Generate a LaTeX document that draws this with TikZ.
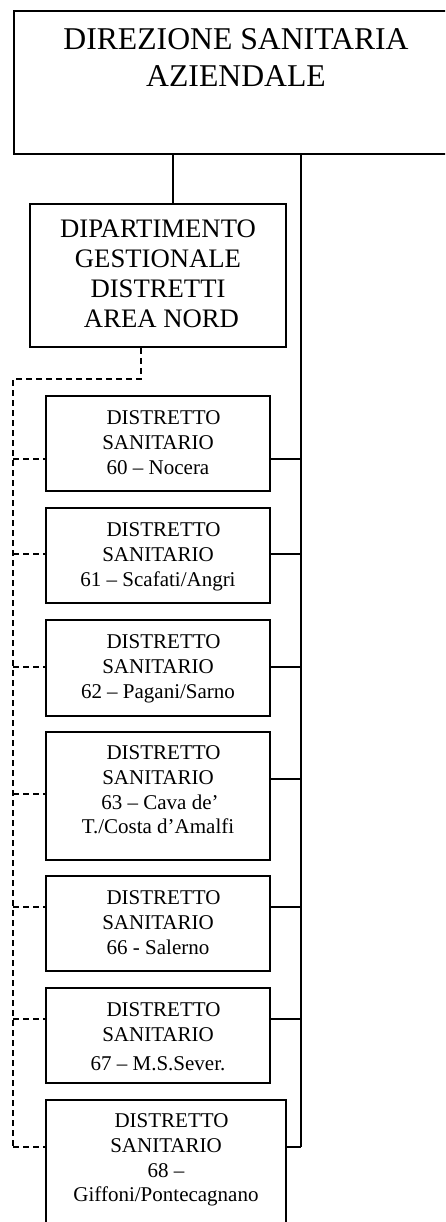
\documentclass[tikz,border=0pt]{standalone}
\usepackage{fontspec}
\setmainfont{Liberation Serif}
\usetikzlibrary{calc}
\begin{document}
\begin{tikzpicture}[x=1pt,y=-1pt,
  box/.style={draw, line width=2pt, rectangle, inner sep=0pt, anchor=north west},
  dist/.style={box, minimum width=224pt, minimum height=95pt},
  txt/.style={inner sep=0pt, align=center, anchor=north},
  dtxt/.style={txt, font=\fontsize{21}{24.6}\selectfont},
  conn/.style={line width=2pt},
  dconn/.style={line width=2pt, dash pattern=on 6pt off 4pt}]
\useasboundingbox (0,0) rectangle (445,1222);
\clip (0,0) rectangle (445,1222);

% boxes
\node[box, minimum width=446pt, minimum height=143pt] (dir) at (13,10) {};
\node[box, minimum width=256pt, minimum height=143pt] (dept) at (29,203) {};
\node[dist] (d60) at (45,395) {};
\node[dist] (d61) at (45,507) {};
\node[dist, minimum height=96pt] (d62) at (45,619) {};
\node[dist, minimum height=128pt] (d63) at (45,731) {};
\node[dist] (d66) at (45,875) {};
\node[dist] (d67) at (45,987) {};
\node[box, minimum width=240pt, minimum height=150pt] (d68) at (45,1099) {};

% texts
\node[txt, font=\fontsize{31.7}{36.7}\selectfont] (tdir) at (236,28.7) {DIREZIONE SANITARIA\\AZIENDALE};
\node[txt, font=\fontsize{26.7}{30.3}\selectfont] (tdept) at ($(dept.north)+(0,16.2)$) {DIPARTIMENTO\\GESTIONALE\\DISTRETTI\\\hspace*{7pt}AREA NORD};
\node[dtxt] (t60) at ($(d60.north)+(0,15.8)$) {\hspace*{11pt}DISTRETTO\\SANITARIO\\60 – Nocera};
\node[dtxt] (t61) at ($(d61.north)+(0,15.8)$) {\hspace*{11pt}DISTRETTO\\SANITARIO\\61 – Scafati/Angri};
\node[dtxt] (t62) at ($(d62.north)+(0,15.8)$) {\hspace*{11pt}DISTRETTO\\SANITARIO\\62 – Pagani/Sarno};
\node[dtxt] (t63) at ($(d63.north)+(0,14.8)$) {\hspace*{11pt}DISTRETTO\\SANITARIO\\\hspace*{4pt}63 – Cava de’\\T./Costa d’Amalfi};
\node[dtxt] (t66) at ($(d66.north)+(0,15.8)$) {\hspace*{11pt}DISTRETTO\\SANITARIO\\66 - Salerno};
\node[dtxt] (t67) at ($(d67.north)+(0,15.8)$) {\hspace*{11pt}DISTRETTO\\SANITARIO\\[4pt]67 – M.S.Sever.};
\node[dtxt] (t68) at ($(d68.north)+(0,14.8)$) {\hspace*{11pt}DISTRETTO\\SANITARIO\\68 –\\Giffoni/Pontecagnano};

% helper coordinates
\coordinate (vx) at (173,0);
\coordinate (bus) at (301,0);
\coordinate (dx) at (141,0);
\coordinate (dl) at (13,379);
\coordinate (y60) at (0,459);
\coordinate (y61) at (0,554);
\coordinate (y62) at (0,667);
\coordinate (y63r) at (0,779);
\coordinate (y63l) at (0,794);
\coordinate (y66) at (0,907);
\coordinate (y67) at (0,1019);
\coordinate (y68) at (0,1147);

% solid connectors
\draw[conn] (dir.south -| vx) -- (dept.north -| vx);
\draw[conn] (dir.south -| bus) -- (bus |- y68);
\draw[conn] (d60.east |- y60) -- (bus |- y60);
\draw[conn] (d61.east |- y61) -- (bus |- y61);
\draw[conn] (d62.east |- y62) -- (bus |- y62);
\draw[conn] (d63.east |- y63r) -- (bus |- y63r);
\draw[conn] (d66.east |- y66) -- (bus |- y66);
\draw[conn] (d67.east |- y67) -- (bus |- y67);
\draw[conn] (d68.east |- y68) -- (bus |- y68);

% dashed connectors
\draw[dconn] (dept.south -| dx) |- (dl) -- (dl |- y68);
\draw[dconn] (dl |- y60) -- (d60.west |- y60);
\draw[dconn] (dl |- y61) -- (d61.west |- y61);
\draw[dconn] (dl |- y62) -- (d62.west |- y62);
\draw[dconn] (dl |- y63l) -- (d63.west |- y63l);
\draw[dconn] (dl |- y66) -- (d66.west |- y66);
\draw[dconn] (dl |- y67) -- (d67.west |- y67);
\draw[dconn] (dl |- y68) -- (d68.west |- y68);
\end{tikzpicture}
\end{document}
